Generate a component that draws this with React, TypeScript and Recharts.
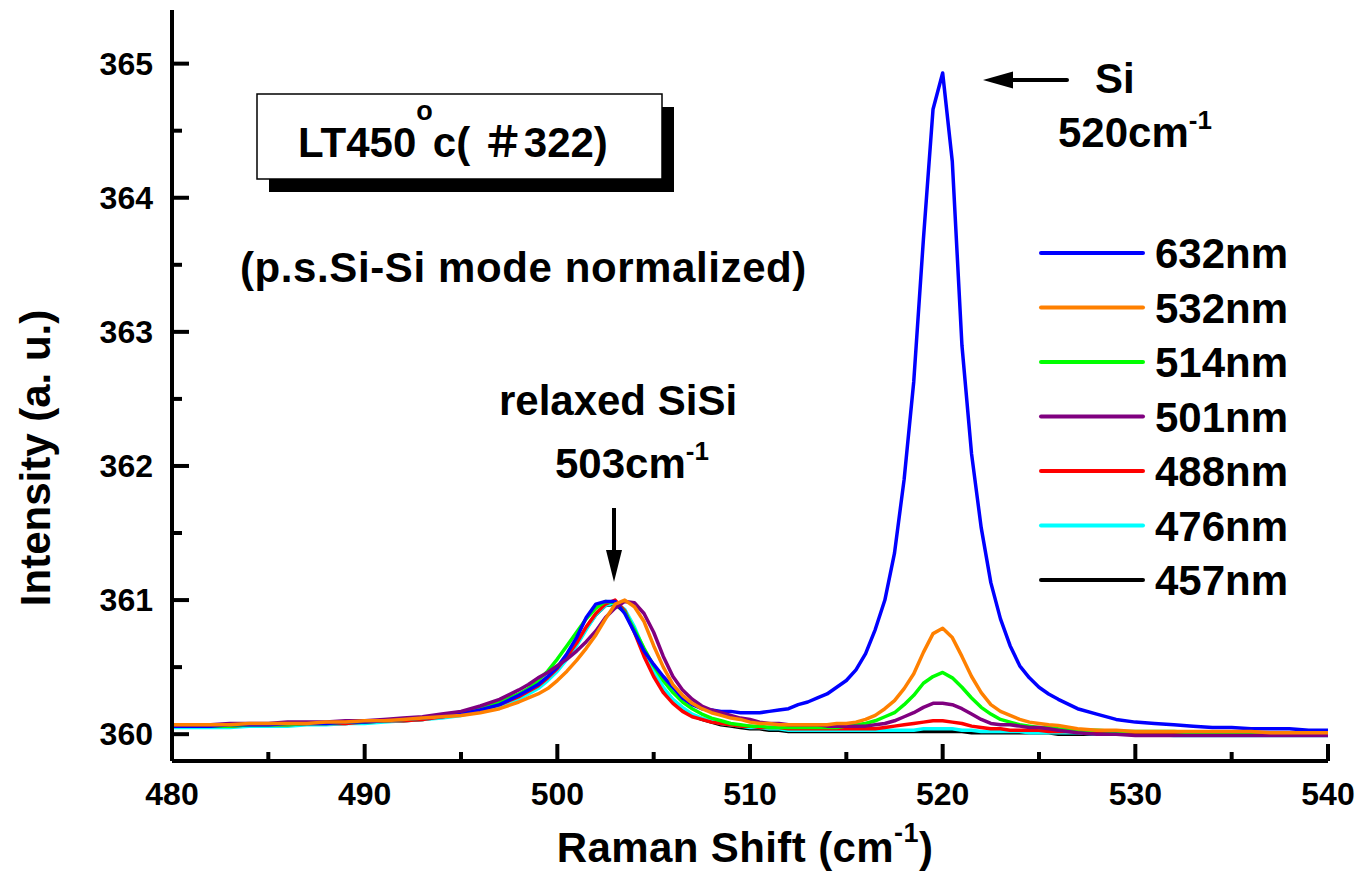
import React from 'react';
import { LineChart, Line, XAxis, YAxis, Customized } from 'recharts';

const FONT = '"Liberation Sans", Arial, "Noto Sans CJK SC", sans-serif';

// Raman shift grid (cm^-1)
const ramanShift: number[] = [
  480, 481, 482, 483, 484, 485, 486, 487, 488, 489, 490, 491, 492, 493, 494, 495, 496, 497,
  498, 498.5, 499, 499.5, 500, 500.5, 501, 501.5, 502, 502.5, 503, 503.5, 504, 504.5, 505, 505.5,
  506, 506.5, 507, 507.5, 508, 508.5, 509, 509.5, 510, 510.5, 511, 511.5, 512, 512.5, 513, 513.5,
  514, 514.5, 515, 515.5, 516, 516.5, 517, 517.5, 518, 518.5, 519, 519.5, 520, 520.5, 521, 521.5,
  522, 522.5, 523, 523.5, 524, 524.5, 525, 525.5, 526,
  527, 528, 529, 530, 531, 532, 533, 534, 535, 536, 537, 538, 539, 540,
];

const nm632: number[] = [
  360.06, 360.06, 360.06, 360.07, 360.07, 360.07, 360.08, 360.08, 360.08, 360.09, 360.09, 360.10, 360.11, 360.12, 360.13, 360.15, 360.18, 360.22,
  360.29, 360.33, 360.37, 360.43, 360.50, 360.60, 360.72, 360.87, 360.97, 360.99, 360.99, 360.90, 360.76, 360.62, 360.52, 360.43,
  360.35, 360.27, 360.22, 360.19, 360.18, 360.17, 360.17, 360.16, 360.16, 360.16, 360.17, 360.18, 360.19, 360.22, 360.24, 360.27,
  360.30, 360.35, 360.40, 360.48, 360.60, 360.78, 361.00, 361.35, 361.90, 362.63, 363.69, 364.66, 364.93, 364.27, 362.90, 362.09,
  361.54, 361.13, 360.86, 360.66, 360.51, 360.42, 360.35, 360.30, 360.26,
  360.19, 360.15, 360.11, 360.09, 360.08, 360.07, 360.06, 360.05, 360.05, 360.04, 360.04, 360.04, 360.03, 360.03,
];

const nm532: number[] = [
  360.07, 360.07, 360.07, 360.07, 360.08, 360.08, 360.08, 360.08, 360.09, 360.09, 360.10, 360.10, 360.11, 360.12, 360.13, 360.14, 360.16, 360.19,
  360.24, 360.27, 360.30, 360.34, 360.40, 360.47, 360.55, 360.64, 360.74, 360.86, 360.97, 361.00, 360.95, 360.84, 360.66, 360.50,
  360.37, 360.29, 360.23, 360.19, 360.16, 360.14, 360.12, 360.11, 360.09, 360.08, 360.08, 360.07, 360.07, 360.07, 360.07, 360.07,
  360.07, 360.08, 360.08, 360.09, 360.11, 360.14, 360.19, 360.25, 360.34, 360.45, 360.61, 360.75, 360.79, 360.72, 360.58, 360.43,
  360.31, 360.22, 360.17, 360.14, 360.11, 360.09, 360.08, 360.07, 360.065,
  360.04, 360.03, 360.03, 360.02, 360.02, 360.02, 360.02, 360.02, 360.02, 360.02, 360.01, 360.01, 360.01, 360.01,
];

const nm514: number[] = [
  360.06, 360.06, 360.06, 360.06, 360.07, 360.07, 360.07, 360.08, 360.08, 360.09, 360.09, 360.10, 360.11, 360.12, 360.14, 360.16, 360.19, 360.24,
  360.30, 360.34, 360.40, 360.47, 360.56, 360.66, 360.76, 360.86, 360.94, 360.99, 360.98, 360.91, 360.78, 360.64, 360.51, 360.40,
  360.31, 360.24, 360.19, 360.15, 360.12, 360.10, 360.08, 360.07, 360.06, 360.06, 360.05, 360.05, 360.05, 360.05, 360.05, 360.05,
  360.05, 360.05, 360.06, 360.07, 360.08, 360.10, 360.13, 360.16, 360.22, 360.29, 360.38, 360.43, 360.46, 360.42, 360.35, 360.27,
  360.20, 360.15, 360.11, 360.09, 360.07, 360.06, 360.05, 360.05, 360.04,
  360.03, 360.03, 360.02, 360.02, 360.02, 360.02, 360.01, 360.01, 360.01, 360.01, 360.01, 360.01, 360.01, 360.01,
];

const nm501: number[] = [
  360.07, 360.07, 360.07, 360.08, 360.08, 360.08, 360.09, 360.09, 360.09, 360.10, 360.10, 360.11, 360.12, 360.13, 360.15, 360.17, 360.21, 360.26,
  360.33, 360.37, 360.42, 360.46, 360.51, 360.56, 360.62, 360.69, 360.77, 360.87, 360.94, 360.99, 360.98, 360.90, 360.76, 360.58,
  360.43, 360.33, 360.26, 360.21, 360.18, 360.16, 360.14, 360.12, 360.11, 360.09, 360.08, 360.08, 360.07, 360.07, 360.07, 360.07,
  360.06, 360.06, 360.06, 360.06, 360.06, 360.07, 360.08, 360.10, 360.13, 360.16, 360.20, 360.23, 360.23, 360.22, 360.19, 360.15,
  360.11, 360.08, 360.07, 360.07, 360.06, 360.05, 360.05, 360.04, 360.03,
  360.01, 360.00, 360.00, 359.99, 359.99, 359.99, 359.99, 359.99, 359.99, 359.99, 359.99, 359.99, 359.99, 359.99,
];

const nm488: number[] = [
  360.06, 360.06, 360.06, 360.06, 360.07, 360.07, 360.07, 360.08, 360.08, 360.08, 360.09, 360.10, 360.10, 360.11, 360.13, 360.15, 360.18, 360.22,
  360.28, 360.32, 360.36, 360.42, 360.49, 360.58, 360.68, 360.80, 360.90, 360.97, 361.00, 360.92, 360.76, 360.58, 360.43, 360.31,
  360.23, 360.17, 360.13, 360.11, 360.09, 360.08, 360.07, 360.06, 360.06, 360.05, 360.05, 360.05, 360.04, 360.04, 360.04, 360.04,
  360.04, 360.04, 360.04, 360.04, 360.04, 360.04, 360.05, 360.06, 360.07, 360.08, 360.09, 360.10, 360.10, 360.09, 360.08, 360.06,
  360.05, 360.04, 360.04, 360.03, 360.03, 360.03, 360.03, 360.02, 360.02,
  360.02, 360.02, 360.02, 360.01, 360.01, 360.01, 360.01, 360.01, 360.01, 360.01, 360.01, 360.01, 360.01, 360.01,
];

const nm476: number[] = [
  360.05, 360.05, 360.05, 360.05, 360.06, 360.06, 360.06, 360.07, 360.07, 360.08, 360.08, 360.09, 360.10, 360.11, 360.12, 360.14, 360.17, 360.21,
  360.26, 360.30, 360.34, 360.40, 360.47, 360.56, 360.66, 360.78, 360.89, 360.96, 360.98, 360.93, 360.80, 360.63, 360.47, 360.35,
  360.26, 360.20, 360.15, 360.12, 360.10, 360.08, 360.07, 360.06, 360.05, 360.05, 360.04, 360.04, 360.03, 360.03, 360.03, 360.03,
  360.03, 360.03, 360.03, 360.03, 360.03, 360.03, 360.03, 360.03, 360.03, 360.03, 360.04, 360.04, 360.04, 360.04, 360.03, 360.03,
  360.02, 360.02, 360.02, 360.02, 360.02, 360.01, 360.01, 360.01, 360.01,
  360.01, 360.00, 360.00, 360.00, 360.00, 359.99, 359.99, 359.99, 359.99, 359.99, 359.99, 359.99, 359.99, 359.99,
];

const nm457: number[] = [
  360.06, 360.06, 360.06, 360.06, 360.07, 360.07, 360.07, 360.08, 360.08, 360.08, 360.09, 360.10, 360.10, 360.11, 360.13, 360.15, 360.17, 360.21,
  360.27, 360.31, 360.35, 360.41, 360.48, 360.57, 360.67, 360.79, 360.89, 360.96, 360.97, 360.91, 360.77, 360.60, 360.45, 360.33,
  360.24, 360.18, 360.14, 360.11, 360.09, 360.07, 360.06, 360.05, 360.04, 360.04, 360.03, 360.03, 360.02, 360.02, 360.02, 360.02,
  360.02, 360.02, 360.02, 360.02, 360.02, 360.02, 360.02, 360.02, 360.02, 360.02, 360.02, 360.02, 360.02, 360.02, 360.02, 360.01,
  360.01, 360.01, 360.01, 360.01, 360.01, 360.01, 360.01, 360.01, 360.00,
  360.00, 360.00, 360.00, 360.00, 360.00, 360.00, 360.00, 360.00, 360.00, 360.00, 360.00, 360.00, 360.00, 360.00,
];

const legendNames: string[] = ['632nm', '532nm', '514nm', '501nm', '488nm', '476nm', '457nm'];
const legendKeys: string[] = ['nm632', 'nm532', 'nm514', 'nm501', 'nm488', 'nm476', 'nm457'];
const seriesColors: string[] = ['#0000FF', '#FF8000', '#00FF00', '#800080', '#FF0000', '#00FFFF', '#000000'];
// drawing order (first drawn = bottom)
const drawOrder: number[] = [6, 5, 4, 2, 0, 3, 1];

const xTicks: number[] = [480, 485, 490, 495, 500, 505, 510, 515, 520, 525, 530, 535, 540];
const yTicks: number[] = [360, 360.5, 361, 361.5, 362, 362.5, 363, 363.5, 364, 364.5, 365];

const seriesValues: number[][] = [nm632, nm532, nm514, nm501, nm488, nm476, nm457];

const data = ramanShift.map((x, i) => {
  const row: Record<string, number> = { x };
  legendKeys.forEach((k, j) => {
    row[k] = seriesValues[j][i];
  });
  return row;
});

const XTick = (props: any) => {
  const { x, y, payload } = props;
  const v = payload.value as number;
  const major = v % 10 === 0;
  return (
    <g>
      <line x1={x} y1={y} x2={x} y2={y - (major ? 17 : 9)} stroke="#000" strokeWidth={4} />
      {major && (
        <text x={x} y={y + 44} textAnchor="middle" fontSize={32} fontWeight="bold" fontFamily={FONT} fill="#000">
          {v}
        </text>
      )}
    </g>
  );
};

const YTick = (props: any) => {
  const { x, y, payload } = props;
  const v = payload.value as number;
  const major = Number.isInteger(v);
  return (
    <g>
      <line x1={x} y1={y} x2={x + (major ? 17 : 10)} y2={y} stroke="#000" strokeWidth={4} />
      {major && (
        <text x={x - 19} y={y + 11} textAnchor="end" fontSize={32} fontWeight="bold" fontFamily={FONT} fill="#000">
          {v}
        </text>
      )}
    </g>
  );
};

const Annotations = () => {
  const t = { fontFamily: FONT, fontWeight: 'bold' as const, fill: '#000' };
  return (
    <g>
      {/* sample box with shadow */}
      <rect x={269} y={107} width={405} height={85} fill="#000" />
      <rect x={257} y={94} width={405} height={85} fill="#fff" stroke="#000" strokeWidth={1.5} />
      <text x={298} y={157} fontSize={42} {...t}>
        LT450
        <tspan fontSize={27} dy={-37}>o</tspan>
        <tspan dy={37}>c( ＃322)</tspan>
      </text>
      <text x={240} y={282} fontSize={42} letterSpacing={0.6} {...t}>(p.s.Si-Si mode normalized)</text>

      {/* relaxed SiSi */}
      <text x={618} y={415} fontSize={42} textAnchor="middle" {...t}>relaxed SiSi</text>
      <text x={555} y={478} fontSize={42} {...t}>
        503cm<tspan fontSize={26} dy={-18}>-1</tspan>
      </text>
      <line x1={614} y1={508} x2={614} y2={556} stroke="#000" strokeWidth={4} />
      <polygon points="606,550 622,550 614,582" fill="#000" />

      {/* Si */}
      <line x1={1067} y1={80} x2={1008} y2={80} stroke="#000" strokeWidth={4} strokeLinecap="round" />
      <polygon points="983,80 1013,71.5 1013,88.5" fill="#000" />
      <text x={1095} y={93} fontSize={42} {...t}>Si</text>
      <text x={1058} y={147} fontSize={42} {...t}>
        520cm<tspan fontSize={26} dy={-18}>-1</tspan>
      </text>

      {/* legend */}
      {legendNames.map((name, i) => {
        const yy = 253 + i * 54.5;
        return (
          <g key={name}>
            <line x1={1041} y1={yy} x2={1143} y2={yy} stroke={seriesColors[i]} strokeWidth={4} strokeLinecap="round" />
            <text x={1155} y={yy + 15} fontSize={42} {...t}>{name}</text>
          </g>
        );
      })}

      {/* axis titles */}
      <text x={745} y={862} fontSize={42} textAnchor="middle" letterSpacing={0.4} {...t}>
        Raman Shift (cm<tspan fontSize={27} dy={-20}>-1</tspan>
        <tspan dy={20}>)</tspan>
      </text>
      <text transform="translate(50, 458) rotate(-90)" x={0} y={0} fontSize={42} textAnchor="middle" {...t}>
        Intensity (a. u.)
      </text>
    </g>
  );
};

export default function App() {
  return (
    <div style={{ position: 'absolute', left: 0, top: 0, width: 1356, height: 875, background: '#fff' }}>
      <LineChart width={1356} height={875} data={data} margin={{ top: 10, right: 28, bottom: 0, left: 0 }}>
        <XAxis
          dataKey="x"
          type="number"
          domain={[480, 540]}
          allowDataOverflow
          ticks={xTicks}
          interval={0}
          height={114}
          tickSize={0}
          tickMargin={0}
          tickLine={false}
          tick={<XTick />}
          axisLine={{ stroke: '#000', strokeWidth: 4 }}
        />
        <XAxis
          xAxisId="top"
          orientation="top"
          type="number"
          domain={[480, 540]}
          height={0}
          tick={false}
          tickLine={false}
          axisLine={{ stroke: '#000', strokeWidth: 4 }}
        />
        <YAxis
          type="number"
          domain={[359.8, 365.4]}
          allowDataOverflow
          ticks={yTicks}
          interval={0}
          width={172}
          tickSize={0}
          tickMargin={0}
          tickLine={false}
          tick={<YTick />}
          axisLine={{ stroke: '#000', strokeWidth: 4 }}
        />
        <YAxis
          yAxisId="right"
          orientation="right"
          type="number"
          domain={[359.8, 365.4]}
          width={0}
          tick={false}
          tickLine={false}
          axisLine={{ stroke: '#000', strokeWidth: 4 }}
        />
        {drawOrder.map((j) => (
          <Line
            key={legendKeys[j]}
            type="linear"
            dataKey={legendKeys[j]}
            name={legendNames[j]}
            stroke={seriesColors[j]}
            strokeWidth={3.5}
            strokeLinejoin="round"
            dot={false}
            activeDot={false}
            isAnimationActive={false}
          />
        ))}
        <Customized component={<Annotations />} />
      </LineChart>
    </div>
  );
}
